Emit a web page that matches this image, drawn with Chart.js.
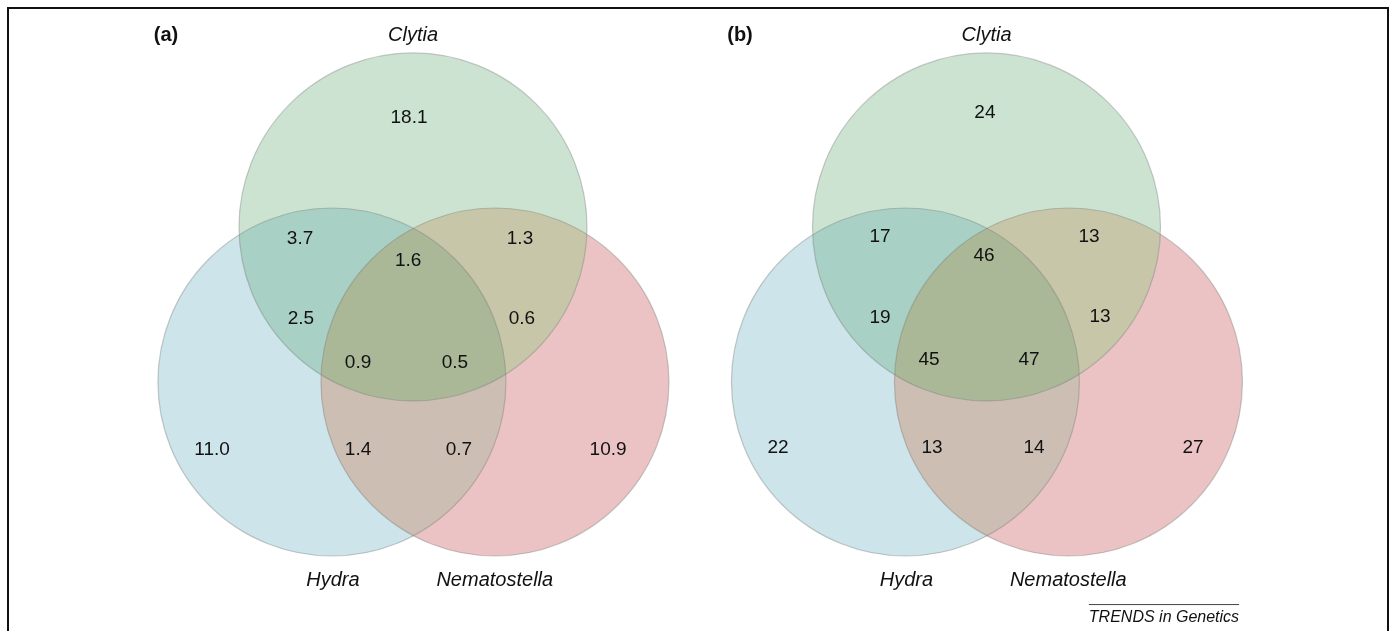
<!DOCTYPE html>
<html>
<head>
<meta charset="utf-8">
<script src="https://cdn.jsdelivr.net/npm/chart.js@4.4.1/dist/chart.umd.min.js"></script>
<style>
  html, body { margin: 0; padding: 0; background: #fff; }
  #wrap { width: 1390px; height: 631px; }
</style>
</head>
<body>
<div id="wrap"><canvas id="venn" width="1390" height="631"></canvas></div>
<script>
// Data
var sets = ["Clytia", "Hydra", "Nematostella"];
var panels = ["(a)", "(b)"];
// which sets each number belongs to (same order in both panels)
var regions = ["C", "CH", "CN", "CHN", "CH", "CN", "CHN", "CHN", "H", "HN", "HN", "N"];
var valuesA = [18.1, 3.7, 1.3, 1.6, 2.5, 0.6, 0.9, 0.5, 11.0, 1.4, 0.7, 10.9];
var valuesB = [24, 17, 13, 46, 19, 13, 45, 47, 22, 13, 14, 27];
var source = "TRENDS in Genetics";

// Layout (units = circle radius)
var PX = 174;                 // pixels per unit
var origin = [413, 382];      // panel (a) origin in canvas pixels
var panelX = [0, 3.296];
var circleX = [0, -0.466, 0.471];
var circleY = [0.891, 0, 0];
var setLabelPos = [[0, 1.989], [-0.46, -1.138], [0.47, -1.138]];
var labelPosA = [[-0.023, 1.517], [-0.649, 0.822], [0.615, 0.822], [-0.028, 0.695],
                 [-0.644, 0.362], [0.626, 0.362], [-0.316, 0.109], [0.241, 0.109],
                 [-1.155, -0.391], [-0.316, -0.391], [0.264, -0.391], [1.121, -0.391]];
var labelPosB = [[-0.009, 1.546], [-0.612, 0.833], [0.589, 0.833], [-0.014, 0.724],
                 [-0.612, 0.368], [0.652, 0.374], [-0.330, 0.126], [0.244, 0.126],
                 [-1.198, -0.379], [-0.313, -0.379], [0.273, -0.379], [1.187, -0.379]];

// Styles
var fills = ["#cde3d2", "#cce4ea", "#ebc3c5"];
var overlapFills = [[[0, 1], "#a8d0c4"], [[0, 2], "#c8c6a8"], [[1, 2], "#cdbeb4"], [[0, 1, 2], "#aab898"]];
var edge = "rgba(120,125,120,0.4)";
var drawOrder = [0, 2, 1];   // lower = on top
var FONT = "'Liberation Sans', Arial, Helvetica, sans-serif";

function unitRadius(ctx) {
  var s = ctx.chart.scales.x;
  return Math.abs(s.getPixelForValue(1) - s.getPixelForValue(0));
}

var datasets = sets.map(function (name, i) {
  return {
    label: name,
    order: drawOrder[i],
    data: panelX.map(function (px) { return { x: px + circleX[i], y: circleY[i] }; }),
    backgroundColor: fills[i],
    borderColor: fills[i],
    borderWidth: 0,
    pointRadius: unitRadius,
    pointHoverRadius: unitRadius,
    showLine: false
  };
});

function circlePath(c, el) {
  c.beginPath();
  c.arc(el.x, el.y, el.options.radius, 0, Math.PI * 2);
}

var vennPlugin = {
  id: "vennText",
  afterDatasetsDraw: function (chart) {
    var c = chart.ctx, xs = chart.scales.x, ys = chart.scales.y;
    c.save();
    // overlap tints, then outlines of every circle
    panels.forEach(function (p, j) {
      var els = sets.map(function (s, i) { return chart.getDatasetMeta(i).data[j]; });
      overlapFills.forEach(function (o) {
        c.save();
        o[0].forEach(function (i) { circlePath(c, els[i]); c.clip(); });
        c.fillStyle = o[1];
        c.fillRect(0, 0, chart.width, chart.height);
        c.restore();
      });
      els.forEach(function (el) {
        circlePath(c, el);
        c.strokeStyle = edge;
        c.lineWidth = 1.2;
        c.stroke();
      });
    });

    c.fillStyle = "#111";
    c.textAlign = "center";
    c.textBaseline = "middle";
    panels.forEach(function (p, pi) {
      var vals = pi === 0 ? valuesA : valuesB;
      var pos = pi === 0 ? labelPosA : labelPosB;
      c.font = "19px " + FONT;
      vals.forEach(function (v, k) {
        var txt = pi === 0 ? v.toFixed(1) : String(v);
        c.fillText(txt, xs.getPixelForValue(panelX[pi] + pos[k][0]), ys.getPixelForValue(pos[k][1]));
      });
      c.font = "italic 20px " + FONT;
      sets.forEach(function (s, i) {
        c.fillText(s, xs.getPixelForValue(panelX[pi] + setLabelPos[i][0]), ys.getPixelForValue(setLabelPos[i][1]));
      });
      c.font = "bold 20px " + FONT;
      c.textAlign = "left";
      c.fillText(p, xs.getPixelForValue(panelX[pi] - 1.49), ys.getPixelForValue(1.989));
      c.textAlign = "center";
    });
    // source credit with overline
    var sx = xs.getPixelForValue(4.316), sy = ys.getPixelForValue(-1.351);
    c.font = "italic 16px " + FONT;
    c.fillText(source, sx, sy);
    var w = c.measureText(source).width;
    c.strokeStyle = "#444";
    c.lineWidth = 1;
    c.beginPath();
    c.moveTo(sx - w / 2, sy - 12.5);
    c.lineTo(sx + w / 2, sy - 12.5);
    c.stroke();
    // frame (open at bottom)
    c.strokeStyle = "#111";
    c.lineWidth = 2;
    c.beginPath();
    c.moveTo(8, chart.height);
    c.lineTo(8, 8);
    c.lineTo(chart.width - 2, 8);
    c.lineTo(chart.width - 2, chart.height);
    c.stroke();
    c.restore();
  }
};

var W = 1390, H = 631;
new Chart(document.getElementById("venn"), {
  type: "scatter",
  data: { datasets: datasets },
  options: {
    responsive: false,
    animation: false,
    events: [],
    layout: { padding: 0 },
    clip: false,
    scales: {
      x: { type: "linear", display: false, min: -origin[0] / PX, max: (W - origin[0]) / PX },
      y: { type: "linear", display: false, min: -(H - origin[1]) / PX, max: origin[1] / PX }
    },
    plugins: { legend: { display: false }, tooltip: { enabled: false } }
  },
  plugins: [vennPlugin]
});
</script>
</body>
</html>
